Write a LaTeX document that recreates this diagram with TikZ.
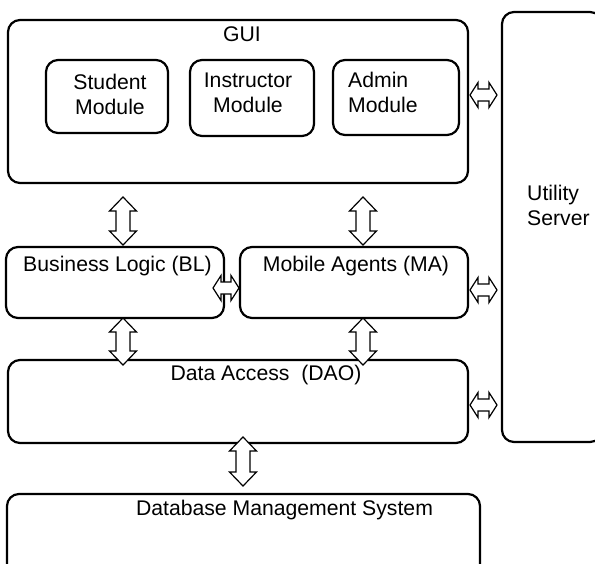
\documentclass[tikz,border=0pt]{standalone}
\usepackage{fontspec}
\setmainfont{Liberation Sans}
\usetikzlibrary{calc}

\tikzset{
  box/.style={draw, line width=2.2pt, rounded corners=12pt, inner sep=0pt},
  lbl/.style={inner sep=0pt, font=\fontsize{21.2}{25}\selectfont},
  biarrow/.style={draw, fill=white, line width=1.2pt, line join=miter},
}

% hollow two-headed block arrow between two points on one vertical line
\newcommand\vbiarrow[2]{%
  \path[biarrow] let \p1=(#1), \p2=(#2) in
    (\x1,\y1) -- (\x1+13.5pt,\y1-14pt) -- (\x1+7pt,\y1-14pt) -- (\x1+7pt,\y2+14pt)
    -- (\x1+13.5pt,\y2+14pt) -- (\x1,\y2) -- (\x1-13.5pt,\y2+14pt) -- (\x1-7pt,\y2+14pt)
    -- (\x1-7pt,\y1-14pt) -- (\x1-13.5pt,\y1-14pt) -- cycle;}
% hollow two-headed block arrow between two points on one horizontal line
\newcommand\hbiarrow[2]{%
  \path[biarrow] let \p1=(#1), \p2=(#2) in
    (\x1,\y1) -- (\x1+8pt,\y1+12.5pt) -- (\x1+8pt,\y1+6pt) -- (\x2-8pt,\y1+6pt)
    -- (\x2-8pt,\y1+12.5pt) -- (\x2,\y1) -- (\x2-8pt,\y1-12.5pt) -- (\x2-8pt,\y1-6pt)
    -- (\x1+8pt,\y1-6pt) -- (\x1+8pt,\y1-12.5pt) -- cycle;}

\begin{document}
\begin{tikzpicture}[x=1pt, y=-1pt]
\useasboundingbox (0,0) rectangle (595,563);

% layers
\node[box, minimum width=460, minimum height=163] (gui) at (238,101.5) {};
\node[box, minimum width=122, minimum height=73] (student) at (107,96.5) {};
\node[box, minimum width=124, minimum height=76] (instructor) at (252,98) {};
\node[box, minimum width=126, minimum height=75] (admin) at (396,97.5) {};
\node[box, minimum width=100, minimum height=430] (util) at (552,227) {};
\node[box, minimum width=218, minimum height=71] (bl) at (115,282.5) {};
\node[box, minimum width=228, minimum height=71] (ma) at (354,282.5) {};
\node[box, minimum width=460, minimum height=83] (dao) at (238,401.5) {};
\node[box, minimum width=473, minimum height=84] (dbms) at (243.5,536) {};

% labels
\node[lbl] (guiT) at (242,34) {GUI};
\node[lbl, align=center] (studentT) at (110,94.5) {Student\\Module};
\node[lbl, align=center] (instructorT) at (248,92.5) {Instructor\\Module};
\node[lbl, align=left, anchor=west] (adminT) at (348,92.5) {Admin\\Module};
\node[lbl, align=left, anchor=west] (utilT) at (527,205.5) {Utility\\Server};
\node[lbl] (blT) at (117.5,266) {Business Logic (BL)};
\node[lbl] (maT) at (356,266) {Mobile Agents (MA)};
\node[lbl] (daoT) at (266,375) {Data Access\ \ (DAO)};
\node[lbl] (dbmsT) at (284.5,510) {Database Management System};

% arrow end points
\coordinate (gbT) at (123,197);  \coordinate (gbB) at (123,245);
\coordinate (gmT) at (363,197);  \coordinate (gmB) at (363,245);
\coordinate (bdT) at (123,318);  \coordinate (bdB) at (123,365);
\coordinate (mdT) at (363,318);  \coordinate (mdB) at (363,365);
\coordinate (ddT) at (243,437);  \coordinate (ddB) at (243,486);
\coordinate (guL) at (470,95);   \coordinate (guR) at (497,95);
\coordinate (bmL) at (213,288);  \coordinate (bmR) at (239,288);
\coordinate (muL) at (470,290);  \coordinate (muR) at (497,290);
\coordinate (duL) at (470,405);  \coordinate (duR) at (497,405);

% connectors
\vbiarrow{gbT}{gbB}
\vbiarrow{gmT}{gmB}
\vbiarrow{bdT}{bdB}
\vbiarrow{mdT}{mdB}
\vbiarrow{ddT}{ddB}
\hbiarrow{guL}{guR}
\hbiarrow{bmL}{bmR}
\hbiarrow{muL}{muR}
\hbiarrow{duL}{duR}
\end{tikzpicture}
\end{document}
